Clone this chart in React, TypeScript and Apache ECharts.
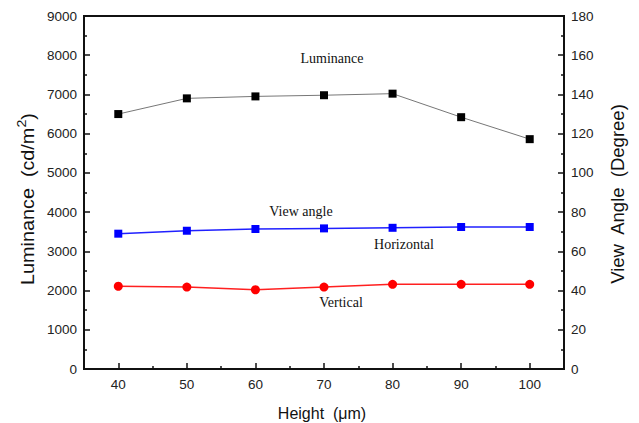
import React, { useEffect, useRef } from "react";
import * as echarts from "echarts";

const heights = [40, 50, 60, 70, 80, 90, 100];
const luminance = [6500, 6900, 6950, 6980, 7020, 6420, 5860];
const horizontal = [69.0, 70.5, 71.4, 71.7, 72.0, 72.4, 72.4];
const vertical = [42.2, 41.8, 40.4, 41.8, 43.2, 43.2, 43.2];
const majorX = [40, 50, 60, 70, 80, 90, 100];
const minorX = [45, 55, 65, 75, 85, 95];

const sans = "Arial, 'Liberation Sans', sans-serif";
const serif = "'Times New Roman', 'Liberation Serif', serif";

export default function App() {
  const ref = useRef<HTMLDivElement>(null);
  useEffect(() => {
    document.body.style.margin = "0";
    const chart = echarts.init(ref.current!, null, { renderer: "svg" });
    const tickLabel = { color: "#222", fontFamily: sans, fontSize: 13.5, formatter: (v: number) => String(v) };
    const axisLine = { show: true, lineStyle: { color: "#111", width: 2 } };
    const note = (text: string, x: number, y: number) => ({
      type: "text",
      x,
      y,
      style: { text, fill: "#111", font: `14px ${serif}`, textAlign: "center", textVerticalAlign: "middle" },
    });
    chart.setOption({
      animation: false,
      backgroundColor: "#fff",
      grid: {
        left: 84,
        right: 75,
        top: 16,
        bottom: 54,
        show: true,
        borderColor: "#111",
        borderWidth: 2,
        backgroundColor: "transparent",
      },
      xAxis: [
        {
          type: "value",
          min: 35,
          max: 105,
          position: "bottom",
          axisLine,
          splitLine: { show: false },
          axisTick: {
            inside: true,
            length: 6,
            customValues: majorX,
            lineStyle: { color: "#111", width: 1.5 },
          },
          axisLabel: { ...tickLabel, margin: 8, customValues: majorX },
        },
        {
          type: "value",
          min: 35,
          max: 105,
          position: "bottom",
          axisLine: { show: false },
          splitLine: { show: false },
          axisTick: {
            inside: true,
            length: 3,
            customValues: minorX,
            lineStyle: { color: "#111", width: 1.5 },
          },
          axisLabel: { show: false },
        },
      ],
      yAxis: [
        {
          type: "value",
          min: 0,
          max: 9000,
          interval: 1000,
          position: "left",
          axisLine,
          splitLine: { show: false },
          axisTick: { show: true, inside: true, length: 6, lineStyle: { color: "#111", width: 1.5 } },
          minorTick: { show: true, splitNumber: 2, length: 3, lineStyle: { color: "#111", width: 1.5 } },
          axisLabel: { ...tickLabel, margin: 7 },
        },
        {
          type: "value",
          min: 0,
          max: 180,
          interval: 20,
          position: "right",
          axisLine,
          splitLine: { show: false },
          axisTick: { show: true, inside: true, length: 6, lineStyle: { color: "#111", width: 1.5 } },
          minorTick: { show: true, splitNumber: 2, length: 3, lineStyle: { color: "#111", width: 1.5 } },
          axisLabel: { ...tickLabel, margin: 7 },
        },
      ],
      series: [
        {
          name: "Luminance",
          type: "line",
          xAxisIndex: 0,
          yAxisIndex: 0,
          data: heights.map((h, i) => [h, luminance[i]]),
          symbol: "rect",
          symbolSize: 8,
          lineStyle: { color: "#777", width: 1 },
          itemStyle: { color: "#000" },
        },
        {
          name: "Horizontal",
          type: "line",
          xAxisIndex: 0,
          yAxisIndex: 1,
          data: heights.map((h, i) => [h, horizontal[i]]),
          symbol: "rect",
          symbolSize: 8,
          lineStyle: { color: "#2020ff", width: 1.5 },
          itemStyle: { color: "#0000ff" },
        },
        {
          name: "Vertical",
          type: "line",
          xAxisIndex: 0,
          yAxisIndex: 1,
          data: heights.map((h, i) => [h, vertical[i]]),
          symbol: "circle",
          symbolSize: 9,
          lineStyle: { color: "#ff2020", width: 1.5 },
          itemStyle: { color: "#ff0000" },
        },
      ],
      graphic: [
        note("Luminance", 332, 58),
        note("View angle", 301, 211),
        note("Horizontal", 404, 244),
        note("Vertical", 341, 302),
        {
          type: "text",
          x: 322,
          y: 413,
          style: { text: "Height  (\u03bcm)", fill: "#111", font: `16px ${sans}`, textAlign: "center", textVerticalAlign: "middle" },
        },
        {
          type: "text",
          x: 26,
          y: 199,
          rotation: Math.PI / 2,
          scaleX: 1.1,
          style: {
            text: "{a|Luminance  (cd/m}{s|2}{a|)}",
            fill: "#111",
            textAlign: "center",
            textVerticalAlign: "middle",
            rich: {
              a: { fontFamily: sans, fontSize: 18, fill: "#111", verticalAlign: "bottom" },
              s: { fontFamily: sans, fontSize: 13, fill: "#111", verticalAlign: "top", padding: [0, 0, 9, 0] },
            },
          },
        },
        {
          type: "text",
          x: 617,
          y: 194,
          rotation: Math.PI / 2,
          style: {
            text: "View  Angle  (Degree)",
            fill: "#111",
            font: `18.5px ${sans}`,
            textAlign: "center",
            textVerticalAlign: "middle",
          },
        },
      ],
    });
    return () => chart.dispose();
  }, []);
  return <div ref={ref} style={{ width: 639, height: 423 }} />;
}
